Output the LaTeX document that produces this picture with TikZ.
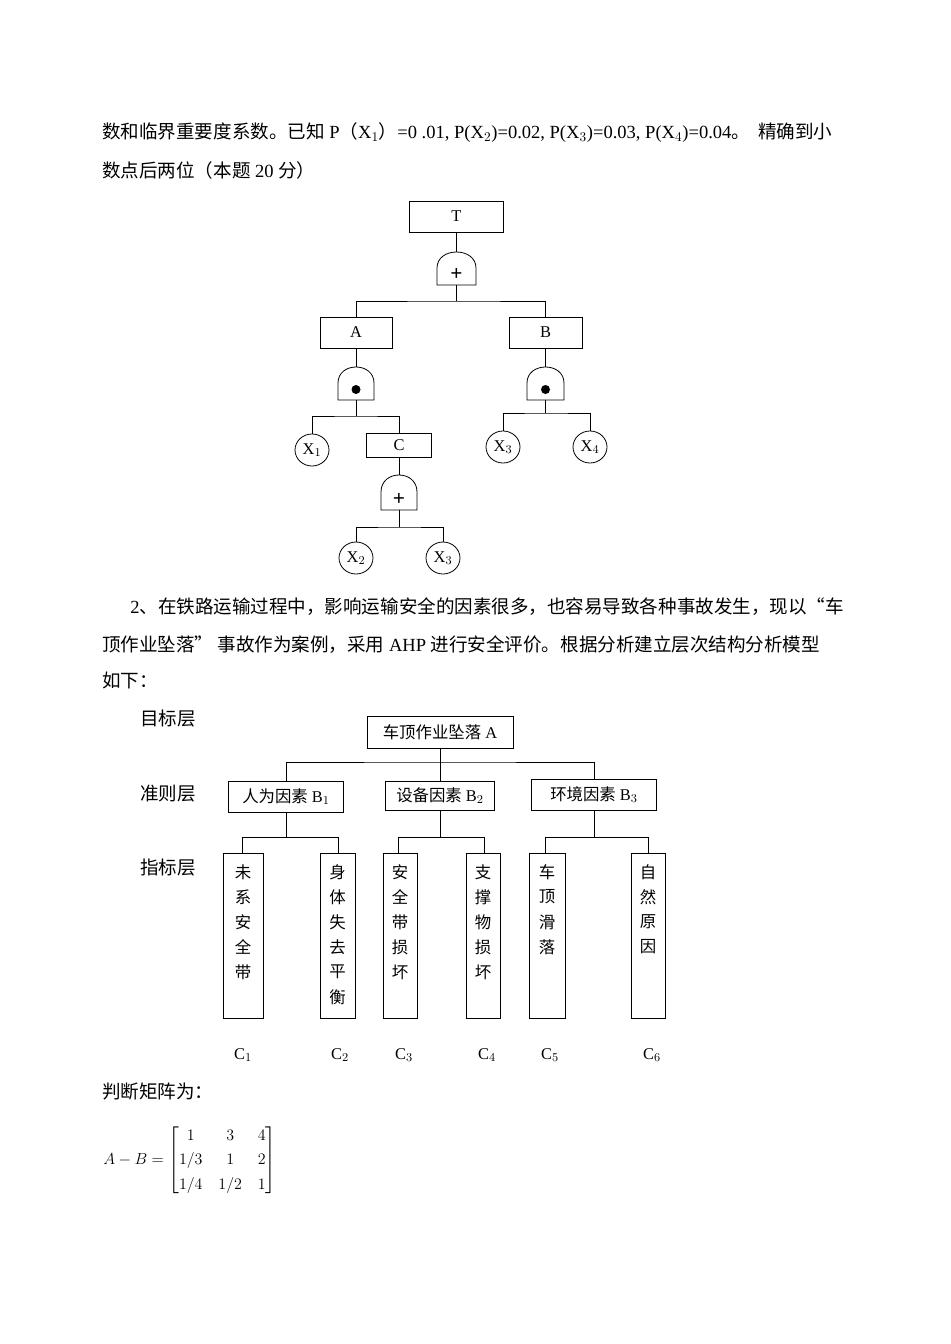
\documentclass[tikz,border=0pt]{standalone}
\usepackage{fontspec}
\usepackage{amsmath}
\usetikzlibrary{shapes.geometric}
\setmainfont{Liberation Serif}
\newfontfamily\cjk{Noto Sans CJK SC}
\newcommand{\zh}[1]{{\cjk #1}}
\begin{document}
\begin{tikzpicture}[x=0.75pt,y=-0.75pt,
  box/.style={draw,line width=0.6pt,inner sep=0pt},
  ev/.style={draw,line width=0.6pt,ellipse,minimum width=34*0.75pt,minimum height=32*0.75pt,inner sep=0pt},
  ln/.style={line width=0.6pt},
  txt/.style={anchor=base west,inner sep=0pt,font=\fontsize{13.9pt}{16pt}\selectfont},
  small/.style={font=\fontsize{12.3pt}{14pt}\selectfont}]
\useasboundingbox (0,0) rectangle (950,1344);
\newcommand{\gate}[6]{% name, x1, x2, top, mid, bottom
  \draw[ln] (#2,#6) -- (#2,#5) .. controls (#2,{#5+(#4-#5)/0.75}) and (#3,{#5+(#4-#5)/0.75}) .. (#3,#5) -- (#3,#6) -- cycle;
  \coordinate (#1) at ({(#2+#3)/2},{(#5+#6)/2-2});}
% text
\node[txt] (l1) at (102,139) {\zh{数和临界重要度系数。已知} P\zh{（}X$_1$\zh{）}=0 .01, P(X$_2$)=0.02, P(X$_3$)=0.03, P(X$_4$)=0.04\zh{。\ \ 精确到小}};
\node[txt] (l2) at (102,178) {\zh{数点后两位（本题} 20 \zh{分）}};
\node[txt] (l3) at (130,613) {2\zh{、在铁路运输过程中，影响运输安全的因素很多，也容易导致各种事故发生，现以“车}};
\node[txt] (l4) at (102,651) {\zh{顶作业坠落”\ 事故作为案例，采用} AHP \zh{进行安全评价。根据分析建立层次结构分析模型}};
\node[txt] (l5) at (102,687) {\zh{如下：}};
\node[txt] (l6) at (102,1098) {\zh{判断矩阵为：}};
% fault tree
\node[box,minimum width=94*0.75pt,minimum height=31*0.75pt,small] (T) at (456.5,216.5) {T};
\gate{gT}{437}{476}{252}{268}{285}
\node[font=\fontsize{16pt}{16pt}\selectfont\bfseries] at (gT) {+};
\node[box,minimum width=72*0.75pt,minimum height=31*0.75pt,small] (A) at (356,332.5) {A};
\node[box,minimum width=73*0.75pt,minimum height=31*0.75pt,small] (B) at (545.5,332.5) {B};
\gate{gA}{338}{374}{367}{383}{400}
\fill (gA) circle (4.5);
\gate{gB}{527}{564}{367}{383}{400}
\fill (gB) circle (4.5);
\node[ev,small] (X1) at (312,450) {X$_1$};
\node[box,minimum width=65*0.75pt,minimum height=24*0.75pt,small] (C) at (399,445) {C};
\gate{gC}{381}{417}{475}{492}{510}
\node[font=\fontsize{16pt}{16pt}\selectfont\bfseries] at (gC) {+};
\node[ev,small] (X2) at (356,558) {X$_2$};
\node[ev,small] (X3a) at (443,558) {X$_3$};
\node[ev,small] (X3b) at (503,447) {X$_3$};
\node[ev,small] (X4) at (590,447) {X$_4$};
\draw[ln] (T.south) -- (456.5,252);
\draw[ln] (456.5,285) -- (456.5,301);
\draw[ln] (A.north) |- (456.5,301) -| (B.north);
\draw[ln] (A.south) -- (356,367);
\draw[ln] (356,400) -- (356,416);
\draw[ln] (X1.north) |- (356,416) -| (C.north);
\draw[ln] (C.south) -- (399,475);
\draw[ln] (399,510) -- (399,527);
\draw[ln] (X2.north) |- (399,527) -| (X3a.north);
\draw[ln] (B.south) -- (545.5,367);
\draw[ln] (545.5,400) -- (545.5,413);
\draw[ln] (X3b.north) |- (545.5,413) -| (X4.north);
% AHP
\node[txt] (L1) at (140,725) {\zh{目标层}};
\node[txt] (L2) at (140,800) {\zh{准则层}};
\node[txt] (L3) at (140,874) {\zh{指标层}};
\node[box,minimum width=146*0.75pt,minimum height=32*0.75pt,small] (HA) at (440,732) {\zh{车顶作业坠落} A};
\node[box,minimum width=115*0.75pt,minimum height=31*0.75pt,small] (B1) at (286,796.5) {\zh{人为因素} B$_1$};
\node[box,minimum width=109*0.75pt,minimum height=29*0.75pt,small] (B2) at (440,795.5) {\zh{设备因素} B$_2$};
\node[box,minimum width=125*0.75pt,minimum height=31*0.75pt,small] (B3) at (594,794.5) {\zh{环境因素} B$_3$};
\draw[ln] (HA.south) -- (440,762);
\draw[ln] (B1.north) |- (440,762) -| (B3.north);
\draw[ln] (440,762) -- (B2.north);
\newcommand{\col}[4]{% name, x1, x2, chars
  \draw[ln] (#2,853) rectangle (#3,1018);
  \foreach \ch [count=\i] in {#4}
    \node[small,inner sep=0pt] (#1-\i) at ({(#2+#3)/2},{847+25*\i}) {\cjk\ch};}
\col{c1}{223}{263}{未,系,安,全,带}
\col{c2}{320}{355}{身,体,失,去,平,衡}
\col{c3}{383}{417}{安,全,带,损,坏}
\col{c4}{466}{500}{支,撑,物,损,坏}
\col{c5}{529}{565}{车,顶,滑,落}
\col{c6}{631}{665}{自,然,原,因}
\draw[ln] (B1.south) -- (286,837);
\draw[ln] (242,853) |- (338,837) -- (338,853);
\draw[ln] (B2.south) -- (440,837);
\draw[ln] (398,853) |- (484,837) -- (484,853);
\draw[ln] (B3.south) -- (594,837);
\draw[ln] (545,853) |- (648,837) -- (648,853);
\foreach \n/\x/\s in {C1/243/1,C2/340/2,C3/404/3,C4/487/4,C5/550/5,C6/652/6}
  \node[small] (\n) at (\x,1055) {C$_{\s}$};
% matrix
\node[anchor=west,inner sep=0pt,font=\fontsize{12.5pt}{14pt}\selectfont] (M) at (103,1160)
 {$A-B=\renewcommand{\arraystretch}{1.3}\setlength{\arraycolsep}{6pt}\begin{bmatrix}1&3&4\\1/3&1&2\\1/4&1/2&1\end{bmatrix}$};
\end{tikzpicture}
\end{document}
